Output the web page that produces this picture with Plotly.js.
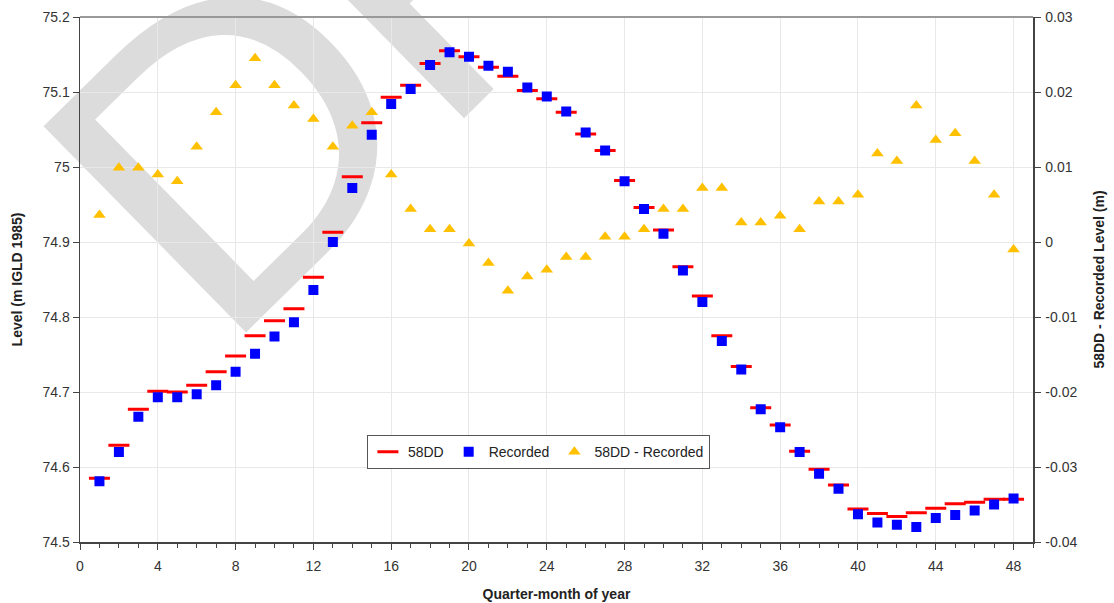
<!DOCTYPE html>
<html>
<head>
<meta charset="utf-8">
<script src="https://cdn.plot.ly/plotly-3.0.1.min.js"></script>
<style>
html,body{margin:0;padding:0;background:#fff;}
#wrap{position:relative;width:1114px;height:603px;}
#wm{position:absolute;left:0;top:0;z-index:0;}
#chart{position:absolute;left:0;top:0;width:1114px;height:603px;z-index:1;}
</style>
</head>
<body>
<div id="wrap">
<svg id="wm" width="1114" height="603">
  <text transform="translate(220,358) rotate(-44.5) scale(1.06,1)" letter-spacing="-15" font-family="Liberation Sans, Arial, sans-serif" font-size="420" fill="#dcdcdc">DRAFT</text>
</svg>
<div id="chart"></div>
</div>
<script>
// Quarter-month of year
const quarterMonths = [1,2,3,4,5,6,7,8,9,10,11,12,13,14,15,16,17,18,19,20,21,22,23,24,
  25,26,27,28,29,30,31,32,33,34,35,36,37,38,39,40,41,42,43,44,45,46,47,48];

// 58DD level (m IGLD 1985)
const level58DD = [74.585,74.629,74.677,74.701,74.700,74.709,74.727,74.748,74.775,74.795,74.811,74.853,
  74.913,74.987,75.059,75.093,75.109,75.138,75.155,75.147,75.133,75.121,75.102,75.091,
  75.073,75.044,75.022,74.982,74.946,74.916,74.867,74.828,74.775,74.734,74.679,74.656,
  74.621,74.597,74.576,74.544,74.538,74.534,74.539,74.545,74.551,74.553,74.557,74.557];

// Recorded level (m IGLD 1985)
const levelRecorded = [74.581,74.620,74.667,74.693,74.693,74.697,74.709,74.727,74.751,74.774,74.793,74.836,
  74.900,74.972,75.043,75.084,75.104,75.136,75.153,75.147,75.135,75.127,75.106,75.094,
  75.074,75.046,75.022,74.981,74.944,74.911,74.862,74.820,74.768,74.730,74.677,74.653,
  74.620,74.591,74.571,74.537,74.526,74.523,74.520,74.532,74.536,74.542,74.550,74.558];

// 58DD - Recorded (m)
const levelDiff = [0.0036,0.0099,0.0099,0.0090,0.0081,0.0127,0.0173,0.0209,0.0245,0.0209,0.0182,0.0164,
  0.0127,0.0155,0.0173,0.0090,0.0044,0.0017,0.0017,-0.0002,-0.0028,-0.0065,-0.0046,-0.0037,
  -0.0020,-0.0020,0.0007,0.0007,0.0017,0.0044,0.0044,0.0072,0.0072,0.0026,0.0026,0.0035,
  0.0017,0.0054,0.0054,0.0063,0.0118,0.0108,0.0182,0.0136,0.0145,0.0108,0.0063,-0.0010];

// Tick labels
const xTickVals = [0,4,8,12,16,20,24,28,32,36,40,44,48];
const leftTickVals = [74.5,74.6,74.7,74.8,74.9,75,75.1,75.2];
const leftTickText = ["74.5","74.6","74.7","74.8","74.9","75","75.1","75.2"];
const rightTickVals = [-0.04,-0.03,-0.02,-0.01,0,0.01,0.02,0.03];
const rightTickText = ["-0.04","-0.03","-0.02","-0.01","0","0.01","0.02","0.03"];

const seriesNames = ["58DD","Recorded","58DD - Recorded"];

const FONT = "Liberation Sans, Arial, sans-serif";

const traces = [
  {x: quarterMonths, y: level58DD, name: seriesNames[0], type: 'scatter', mode: 'markers',
   marker: {symbol: 'line-ew', size: 15, color: '#ff0000', line: {color: '#ff0000', width: 3}}},
  {x: quarterMonths, y: levelRecorded, name: seriesNames[1], type: 'scatter', mode: 'markers',
   marker: {symbol: 'square', size: 10, color: '#0000ff', line: {width: 0}}},
  {x: quarterMonths, y: levelDiff, name: seriesNames[2], type: 'scatter', mode: 'markers', yaxis: 'y2',
   marker: {symbol: 'triangle-up', size: 11, color: '#ffc000', line: {width: 0}}}
];

const layout = {
  width: 1114, height: 603,
  margin: {l: 80, r: 81, t: 17, b: 61},
  paper_bgcolor: 'rgba(0,0,0,0)',
  plot_bgcolor: 'rgba(0,0,0,0)',
  font: {family: FONT, size: 14, color: '#333'},
  showlegend: true,
  legend: {orientation: 'h', x: 0.481, xanchor: 'center', y: 0.171, yanchor: 'middle',
    bgcolor: '#ffffff', bordercolor: '#555', borderwidth: 1,
    font: {family: FONT, size: 14, color: '#222'}, itemwidth: 30, tracegroupgap: 0},
  xaxis: {
    range: [0, 49], tickvals: xTickVals, showgrid: true, gridcolor: '#e8e8e8', gridwidth: 1,
    zeroline: false, showline: true, linecolor: '#444', linewidth: 1.5,
    ticks: 'outside', ticklen: 6, tickcolor: '#444', ticklabelstandoff: 5,
    minor: {dtick: 1, ticks: 'outside', ticklen: 4, tickcolor: '#444', showgrid: false},
    tickfont: {family: FONT, size: 14, color: '#333'},
    title: {text: '<b>Quarter-month of year</b>', font: {family: FONT, size: 14, color: '#222'}, standoff: 16}
  },
  yaxis: {
    range: [74.5, 75.2], tickvals: leftTickVals, ticktext: leftTickText,
    showgrid: true, gridcolor: '#e8e8e8', zeroline: false,
    showline: true, linecolor: '#444', linewidth: 1.5, ticks: 'outside', ticklen: 6, tickcolor: '#444',
    tickfont: {family: FONT, size: 14, color: '#333'},
    title: {text: '<b>Level (m IGLD 1985)</b>', font: {family: FONT, size: 14, color: '#222'}, standoff: 16}
  },
  yaxis2: {
    overlaying: 'y', side: 'right', range: [-0.04, 0.03],
    tickvals: rightTickVals, ticktext: rightTickText,
    showgrid: false, zeroline: false, showline: true, linecolor: '#444', linewidth: 1.5,
    ticks: 'outside', ticklen: 6, tickcolor: '#444', ticklabelstandoff: 2,
    tickfont: {family: FONT, size: 14, color: '#333'},
    title: {text: '<b>58DD - Recorded Level (m)</b>', font: {family: FONT, size: 14, color: '#222'}, standoff: 18}
  },
  shapes: [
    {type: 'line', xref: 'paper', yref: 'paper', x0: 0, x1: 1, y0: 1, y1: 1,
     line: {color: '#999', width: 2}}
  ]
};

Plotly.newPlot('chart', traces, layout, {displayModeBar: false, staticPlot: true});
</script>
</body>
</html>
